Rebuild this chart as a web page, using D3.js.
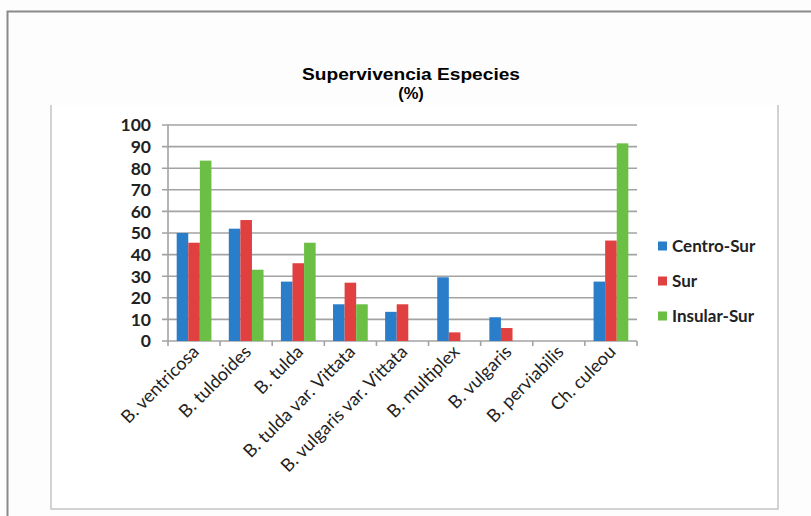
<!DOCTYPE html>
<html>
<head>
<meta charset="utf-8">
<script src="https://cdn.jsdelivr.net/npm/d3@7"></script>
<style>
  body { margin: 0; background: #fdfdfd; }
  svg { display: block; }
</style>
</head>
<body>
<div id="viz-container"></div>
<script>
// data
const species = ["B. ventricosa", "B. tuldoides", "B. tulda", "B. tulda var. Vittata",
    "B. vulgaris var. Vittata", "B. multiplex", "B. vulgaris", "B. perviabilis", "Ch. culeou"];
const seriesNames = ["Centro-Sur", "Sur", "Insular-Sur"];
const centroSur = [50, 52, 27.5, 17, 13.5, 29.5, 11, 0, 27.5];
const sur = [45.5, 56, 36, 27, 17, 4, 6, 0, 46.5];
const insularSur = [83.5, 33, 45.5, 17, 0, 0, 0, 0, 91.5];
const yTicks = [0, 10, 20, 30, 40, 50, 60, 70, 80, 90, 100];
const colors = ["#2a7dc9", "#e0403f", "#6cbf45"];

const width = 811, height = 516;
const margin = { left: 168, right: 174, top: 125, bottom: 175 };

const svg = d3.select("#viz-container").append("svg")
    .attr("width", width)
    .attr("height", height);

// outer frame (page edge) and chart frame
svg.append("path")
    .attr("d", "M7.5,516 V11.5 H811")
    .attr("fill", "none")
    .attr("stroke", "#8a8a8a")
    .attr("stroke-width", 2);
svg.append("path")
    .attr("d", "M51,105 V509 H778 V105")
    .attr("fill", "#ffffff")
    .attr("stroke", "#c4c4c4")
    .attr("stroke-width", 1.5);

// Excel style: gap width 150% -> 3 bars + 1.5 gap per category
const step = (width - margin.right - margin.left) / species.length;
const barW = step / 4.5;
const x = d3.scaleBand()
    .domain(species)
    .range([margin.left, width - margin.right]);
const cx = d => x(d) + x.bandwidth() / 2;

const y = d3.scaleLinear()
    .domain([0, 100])
    .range([height - margin.bottom, margin.top]);

// gridlines
svg.append("g")
    .selectAll("line")
    .data(yTicks)
    .join("line")
    .attr("x1", margin.left - 6)
    .attr("x2", width - margin.right)
    .attr("y1", d => y(d))
    .attr("y2", d => y(d))
    .attr("stroke", "#a3a3a3")
    .attr("stroke-width", 1.6);

// y axis line
svg.append("line")
    .attr("x1", margin.left).attr("x2", margin.left)
    .attr("y1", y(0)).attr("y2", y(100))
    .attr("stroke", "#a3a3a3")
    .attr("stroke-width", 1.6);

svg.append("g")
    .selectAll("text")
    .data(yTicks)
    .join("text")
    .attr("x", margin.left - 17)
    .attr("y", d => y(d))
    .attr("dy", "0.36em")
    .attr("text-anchor", "end")
    .attr("font-family", "Lato, sans-serif")
    .attr("font-weight", 700)
    .attr("font-size", 17.5)
    .attr("fill", "#222")
    .text(d => d);

// category ticks
const tickXs = d3.range(species.length + 1).map(i => margin.left + step * i);
svg.append("g")
    .selectAll("line")
    .data(tickXs)
    .join("line")
    .attr("x1", d => d).attr("x2", d => d)
    .attr("y1", y(0)).attr("y2", y(0) + 5)
    .attr("stroke", "#a3a3a3")
    .attr("stroke-width", 1.6);

// bars
const allSeries = [centroSur, sur, insularSur];
allSeries.forEach((vals, s) => {
    svg.append("g")
        .selectAll("rect")
        .data(vals)
        .join("rect")
        .attr("x", (d, i) => cx(species[i]) - 1.5 * barW + s * barW)
        .attr("y", d => y(d))
        .attr("width", barW)
        .attr("height", d => y(0) - y(d))
        .attr("fill", colors[s]);
});

// x labels rotated
svg.append("g")
    .selectAll("text")
    .data(species)
    .join("text")
    .attr("transform", d => `translate(${cx(d) + 6},${y(0) + 12}) rotate(-45)`)
    .attr("text-anchor", "end")
    .attr("font-family", "Lato, sans-serif")
    .attr("font-size", 18)
    .attr("fill", "#222")
    .text(d => d);

// legend
const legend = svg.append("g")
    .selectAll("g")
    .data(seriesNames)
    .join("g")
    .attr("transform", (d, i) => `translate(658,${246 + i * 35})`);
legend.append("rect")
    .attr("x", 0).attr("y", -4.5)
    .attr("width", 9).attr("height", 9)
    .attr("fill", (d, i) => colors[i]);
legend.append("text")
    .attr("x", 14)
    .attr("dy", "0.36em")
    .attr("font-family", "Lato, sans-serif")
    .attr("font-weight", 700)
    .attr("font-size", 17)
    .attr("fill", "#222")
    .text(d => d);

// title
svg.append("text")
    .attr("x", 411)
    .attr("y", 80)
    .attr("text-anchor", "middle")
    .attr("font-family", "Liberation Sans, Arial, sans-serif")
    .attr("font-weight", 700)
    .attr("font-size", 16.5)
    .attr("textLength", 218)
    .attr("lengthAdjust", "spacingAndGlyphs")
    .text("Supervivencia Especies");
svg.append("text")
    .attr("x", 411)
    .attr("y", 99)
    .attr("text-anchor", "middle")
    .attr("font-family", "Liberation Sans, Arial, sans-serif")
    .attr("font-weight", 700)
    .attr("font-size", 16.5)
    .text("(%)");
</script>
</body>
</html>
